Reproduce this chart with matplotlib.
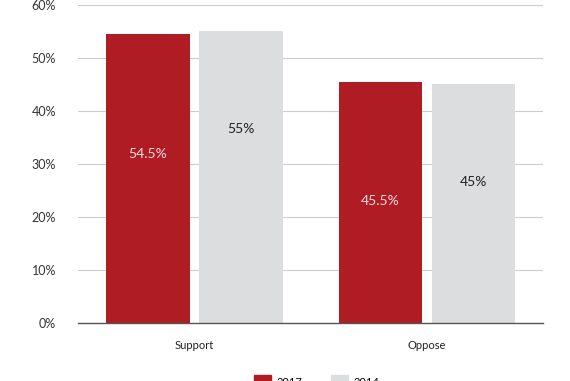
import numpy as np
import matplotlib.pyplot as plt
from matplotlib.patches import Patch

plt.rcParams['font.family'] = ['Lato', 'DejaVu Sans']

categories = ['Support', 'Oppose']
years = ['2017', '2014']
vals_2017 = [54.5, 45.5]
vals_2014 = [55, 45]
labels_2017 = ['54.5%', '45.5%']
labels_2014 = ['55%', '45%']

red = '#b01c24'
grey = '#dcdddf'

fig = plt.figure(figsize=(5.7, 3.81), dpi=100)
ax = fig.add_axes([0.137, 0.152, 0.816, 0.835])

x = np.arange(len(categories))
w = 0.36
b1 = ax.bar(x - 0.2, vals_2017, w, color=red, zorder=2)
b2 = ax.bar(x + 0.2, vals_2014, w, color=grey, zorder=2)

for rect, lab in zip(b1, labels_2017):
    ax.annotate(lab, (rect.get_x() + rect.get_width() / 2, rect.get_height()),
                xytext=(0, -86), textcoords='offset points', ha='center',
                va='center', color='#f6dcdc', fontsize=10)
for rect, lab in zip(b2, labels_2014):
    ax.annotate(lab, (rect.get_x() + rect.get_width() / 2, rect.get_height()),
                xytext=(0, -70), textcoords='offset points', ha='center',
                va='center', color='#222222', fontsize=10)

ax.set_xlim(-0.5, 1.5)
ax.set_ylim(0, 60)
ax.set_yticks(range(0, 61, 10))
ax.set_yticklabels([f'{v}%' for v in range(0, 61, 10)])
ax.set_xticks(x)
ax.set_xticklabels(categories)
ax.yaxis.grid(True, color='#cccccc', lw=0.8, zorder=0)
ax.set_axisbelow(True)
for s in ['top', 'right', 'left']:
    ax.spines[s].set_visible(False)
ax.spines['bottom'].set_color('#555555')
ax.spines['bottom'].set_linewidth(1)
ax.tick_params(axis='y', length=0, pad=16, labelsize=9, labelcolor='#333333')
ax.tick_params(axis='x', length=0, pad=12, labelsize=8, labelcolor='#222222')

# legend sits at the very bottom edge, partly cropped as in the original
handles = [Patch(color=red), Patch(color=grey)]
fig.legend(handles, years, loc='upper left', bbox_to_anchor=(0.446, 0.015),
           ncol=2, frameon=False, fontsize=8, handlelength=1.5,
           handleheight=1.5, handletextpad=0.5, columnspacing=2.6,
           borderaxespad=0, borderpad=0)

fig.savefig('out.png', dpi=100)
